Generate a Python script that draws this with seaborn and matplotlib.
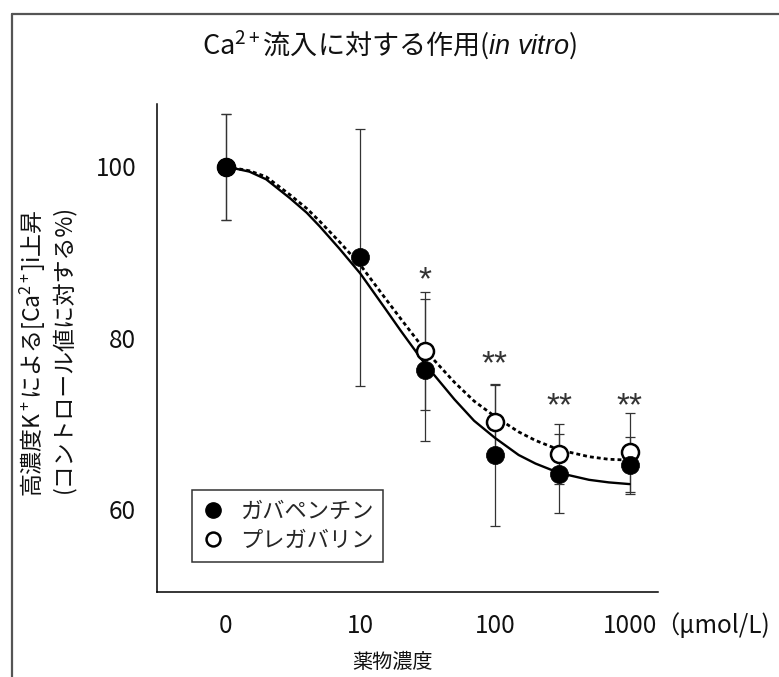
import matplotlib
matplotlib.use("Agg")
import matplotlib.pyplot as plt
import seaborn as sns
from matplotlib.lines import Line2D

# concentrations in umol/L; "0" is drawn where 1 would sit on the log axis
gaba_conc = [0, 10, 30, 100, 300, 1000]
gaba_mean = [99.9, 89.4, 76.2, 66.3, 64.1, 65.1]
gaba_err = [6.2, 15.0, 8.3, 8.3, 4.6, 3.3]

preg_conc = [0, 30, 100, 300, 1000]
preg_mean = [99.9, 78.4, 70.2, 66.4, 66.6]
preg_err = [6.2, 6.9, 4.3, 3.5, 4.6]

# fitted curves
curve_conc = [1, 1.5, 2, 3, 4, 5, 7, 10, 15, 20, 30, 50, 70, 100, 150, 200, 300, 500, 700, 1000]
gaba_fit = [100, 99.4, 98.5, 96.3, 94.6, 93.0, 90.4, 87.5, 83.6, 80.8, 77.0, 72.8, 70.3,
            68.3, 66.3, 65.3, 64.2, 63.4, 63.1, 62.9]
preg_fit = [100, 99.5, 98.8, 96.7, 95.1, 93.6, 91.2, 88.5, 84.8, 82.2, 78.6, 74.8, 72.6,
            70.8, 69.0, 68.0, 66.9, 66.1, 65.8, 65.7]

# significance marks
sig_conc = [30, 100, 300, 1000]
sig_y = [86.7, 76.8, 71.9, 71.9]
sig_text = ["*", "**", "**", "**"]

tick_pos = [1, 10, 100, 1000]
tick_labels = ["0", "10", "100", "1000"]

sns.set_theme(style="white")
plt.rcParams["font.family"] = ["Noto Sans CJK JP", "DejaVu Sans"]
plt.rcParams["mathtext.fontset"] = "custom"
plt.rcParams["mathtext.rm"] = "Noto Sans CJK JP"
plt.rcParams["mathtext.it"] = "Liberation Sans:italic"
plt.rcParams["mathtext.default"] = "regular"


def pos(c):
    return c if c > 0 else 1


fig = plt.figure(figsize=(7.79, 6.77), dpi=100)
ax = fig.add_axes([0.2015, 0.1256, 0.643, 0.7208])
ax.set_xscale("log")

# error bars
ax.errorbar([pos(c) for c in preg_conc], preg_mean, yerr=preg_err, fmt="none",
            ecolor="#333333", elinewidth=0.9, capsize=3.8, capthick=0.9, zorder=2)
ax.errorbar([pos(c) for c in gaba_conc], gaba_mean, yerr=gaba_err, fmt="none",
            ecolor="#333333", elinewidth=0.9, capsize=3.8, capthick=0.9, zorder=2)

# fitted curves
sns.lineplot(x=curve_conc, y=gaba_fit, ax=ax, color="black", lw=1.7, zorder=3)
sns.lineplot(x=curve_conc, y=preg_fit, ax=ax, color="black", lw=2.0,
             linestyle=(0, (1.4, 1.1)), zorder=3)

# markers
sns.scatterplot(x=[pos(c) for c in preg_conc], y=preg_mean, ax=ax, s=150,
                color="white", edgecolor="black", linewidth=1.8, zorder=4)
sns.scatterplot(x=[pos(c) for c in gaba_conc], y=gaba_mean, ax=ax, s=170,
                color="black", edgecolor="black", linewidth=0.5, zorder=5)

for c, y, t in zip(sig_conc, sig_y, sig_text):
    ax.text(c, y, t, ha="center", va="center", fontsize=24,
            family="Liberation Sans", color="#333333")

ax.set_xlim(10 ** -0.51, 10 ** 3.21)
ax.set_ylim(50.3, 107.3)
ax.set_xticks(tick_pos)
ax.set_xticklabels(tick_labels)
ax.minorticks_off()
ax.set_yticks([60, 80, 100])

for s in ["top", "right"]:
    ax.spines[s].set_visible(False)
for s in ["left", "bottom"]:
    ax.spines[s].set_color("black")
    ax.spines[s].set_linewidth(1.1)
ax.tick_params(axis="both", which="major", direction="out", length=10, width=1.1,
               color="black", labelsize=17.5, labelcolor="#111111")
ax.tick_params(axis="x", pad=5)
ax.tick_params(axis="y", pad=5)

handles = [
    Line2D([], [], marker="o", ls="none", mfc="black", mec="black", ms=11),
    Line2D([], [], marker="o", ls="none", mfc="white", mec="black", ms=10, mew=1.8),
]
leg = ax.legend(handles, ["ガバペンチン", "プレガバリン"], loc="lower left",
                bbox_to_anchor=(0.07, 0.062), borderaxespad=0, fontsize=16,
                frameon=True, fancybox=False, handletextpad=0.7,
                handlelength=1.0, labelspacing=0.25, borderpad=0.45)
leg.get_frame().set_edgecolor("black")
leg.get_frame().set_linewidth(1.1)

fig.text(655 / 779, 1 - 626 / 677, "（μmol/L)", ha="left", va="center",
         fontsize=17.5, color="#111111")
fig.text(393 / 779, 1 - 663 / 677, "薬物濃度", ha="center", va="center",
         fontsize=14.5, color="#111111")
fig.text(33 / 779, 1 - 353 / 677, "高濃度K$^+$による[Ca$^{2+}$]i上昇",
         rotation=90, ha="center", va="center", fontsize=16.5, color="#111111")
fig.text(63 / 779, 1 - 349 / 677, "(コントロール値に対する%)",
         rotation=90, ha="center", va="center", fontsize=16.5, color="#111111")
fig.text(390 / 779, 1 - 45 / 677, "Ca$^{2+}$流入に対する作用($\\mathit{in\\ vitro}$)",
         ha="center", va="center", fontsize=19.5, color="#111111")

# outer frame (left and top edges)
fig.add_artist(Line2D([12 / 779, 12 / 779], [0, 1 - 14 / 677],
                      transform=fig.transFigure, color="#555555", lw=1.6))
fig.add_artist(Line2D([12 / 779, 1], [1 - 14 / 677, 1 - 14 / 677],
                      transform=fig.transFigure, color="#555555", lw=1.6))

fig.savefig("out.png", dpi=100)
